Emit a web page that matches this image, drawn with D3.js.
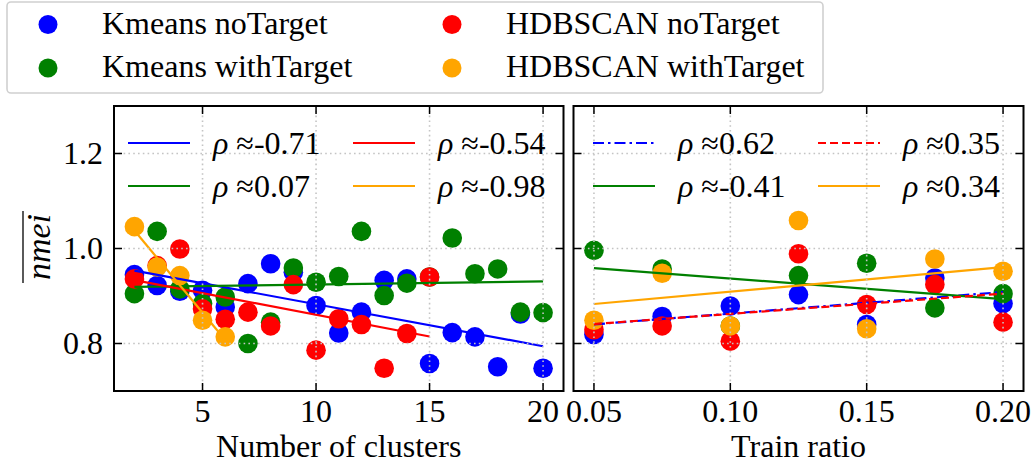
<!DOCTYPE html>
<html>
<head>
<meta charset="utf-8">
<script src="https://cdn.jsdelivr.net/npm/d3@7"></script>
<style>
  html, body { margin: 0; padding: 0; background: #fff; }
  svg { display: block; }
  svg text { font-family: "Liberation Serif", "Tinos", "Times New Roman", "DejaVu Serif", serif; fill: #000; }
</style>
</head>
<body>
<svg id="chart" width="1032" height="468"></svg>
<script>
// ---- data -------------------------------------------------------------
const seriesNames = ["Kmeans noTarget", "Kmeans withTarget", "HDBSCAN noTarget", "HDBSCAN withTarget"];
const seriesColors = ["#0000ff", "#008000", "#ff0000", "#ffa500"];

// number of clusters (left panel)
const kmeansClusters = [2, 3, 4, 5, 6, 7, 8, 9, 10, 11, 12, 13, 14, 15, 16, 17, 18, 19, 20];
const kmeansNoTargetByClusters = [0.945, 0.922, 0.910, 0.912, 0.877, 0.926, 0.968, 0.950, 0.880, 0.822,
                                  0.866, 0.933, 0.936, 0.758, 0.823, 0.814, 0.751, 0.862, 0.748];
const kmeansWithTargetByClusters = [0.905, 1.036, 0.915, 0.884, 0.898, 0.800, 0.845, 0.959, 0.929, 0.941,
                                    1.036, 0.901, 0.927, 0.940, 1.022, 0.947, 0.957, 0.866, 0.865];
const hdbscanClusters = [2, 3, 4, 5, 6, 7, 8, 9, 10, 11, 12, 13, 14, 15];
const hdbscanNoTargetByClusters = [0.936, 0.964, 0.999, 0.873, 0.851, 0.866, 0.837, 0.924, 0.786, 0.852,
                                   0.840, 0.748, 0.821, 0.940];
const hdbscanWithTargetClusters = [2, 3, 4, 5, 6];
const hdbscanWithTargetByClusters = [1.046, 0.961, 0.943, 0.849, 0.814];
const rhoClusters = ["-0.71", "0.07", "-0.54", "-0.98"];

// train ratio (right panel)
const trainRatios = [0.05, 0.075, 0.10, 0.125, 0.15, 0.175, 0.20];
const kmeansNoTargetByRatio = [0.819, 0.857, 0.879, 0.903, 0.840, 0.938, 0.884];
const kmeansWithTargetByRatio = [0.996, 0.957, 0.837, 0.943, 0.969, 0.875, 0.905];
const hdbscanNoTargetByRatio = [0.829, 0.837, 0.805, 0.989, 0.882, 0.924, 0.845];
const hdbscanWithTargetByRatio = [0.849, 0.948, 0.837, 1.059, 0.831, 0.978, 0.952];
const rhoRatio = ["0.62", "-0.41", "0.35", "0.34"];

const yTicks = [0.8, 1.0, 1.2];
const clusterTicks = [5, 10, 15, 20];
const ratioTicks = [0.05, 0.10, 0.15, 0.20];

// ---- layout -----------------------------------------------------------
const svg = d3.select("#chart");
const FONT = 32;
const plotTop = 106, plotBottom = 391;
const y = d3.scaleLinear().domain([0.7, 1.3]).range([plotBottom, plotTop]);

const panels = [
  {
    x: d3.scaleLinear().domain([1.1, 20.9]).range([114, 563.5]),
    ticks: clusterTicks, fmt: d3.format("d"), label: "Number of clusters",
    series: [
      { xs: kmeansClusters, ys: kmeansNoTargetByClusters, dash: null },
      { xs: kmeansClusters, ys: kmeansWithTargetByClusters, dash: null },
      { xs: hdbscanClusters, ys: hdbscanNoTargetByClusters, dash: null },
      { xs: hdbscanWithTargetClusters, ys: hdbscanWithTargetByClusters, dash: null }
    ],
    rho: rhoClusters, yLabels: true, legendPad: 14
  },
  {
    x: d3.scaleLinear().domain([0.0425, 0.2075]).range([573.5, 1023.5]),
    ticks: ratioTicks, fmt: d3.format(".2f"), label: "Train ratio",
    series: [
      { xs: trainRatios, ys: kmeansNoTargetByRatio, dash: "11,4,2.5,4" },
      { xs: trainRatios, ys: kmeansWithTargetByRatio, dash: null },
      { xs: trainRatios, ys: hdbscanNoTargetByRatio, dash: "8,4" },
      { xs: trainRatios, ys: hdbscanWithTargetByRatio, dash: null }
    ],
    rho: rhoRatio, yLabels: false, legendPad: 19.5
  }
];

// least-squares fit through a series
function linearFit(xs, ys) {
  const mx = d3.mean(xs), my = d3.mean(ys);
  let sxy = 0, sxx = 0;
  xs.forEach((xv, i) => { sxy += (xv - mx) * (ys[i] - my); sxx += (xv - mx) * (xv - mx); });
  const b = sxy / sxx, a = my - b * mx;
  return xv => a + b * xv;
}

// legend slots inside each panel: [column, row] per series
const innerSlot = [[0, 0], [0, 1], [1, 0], [1, 1]];

panels.forEach(p => {
  const [x0, x1] = p.x.range();
  const g = svg.append("g");

  // scatter points
  p.series.forEach((s, si) => {
    g.append("g").selectAll("circle")
      .data(s.xs.map((xv, i) => [xv, s.ys[i]]))
      .join("circle")
      .attr("cx", d => p.x(d[0]))
      .attr("cy", d => y(d[1]))
      .attr("r", 9.8)
      .attr("fill", seriesColors[si]);
  });

  // fitted trend lines
  p.series.forEach((s, si) => {
    const f = linearFit(s.xs, s.ys);
    const xa = d3.min(s.xs), xb = d3.max(s.xs);
    g.append("line")
      .attr("x1", p.x(xa)).attr("y1", y(f(xa)))
      .attr("x2", p.x(xb)).attr("y2", y(f(xb)))
      .attr("stroke", seriesColors[si])
      .attr("stroke-width", 2.2)
      .attr("stroke-dasharray", s.dash);
  });

  // dotted grid
  const grid = g.append("g").attr("stroke", "#c4c4c4").attr("stroke-width", 1.6)
    .attr("stroke-dasharray", "1.6,3.2");
  yTicks.forEach(t => grid.append("line").attr("x1", x0).attr("x2", x1).attr("y1", y(t)).attr("y2", y(t)));
  p.ticks.forEach(t => grid.append("line").attr("x1", p.x(t)).attr("x2", p.x(t)).attr("y1", plotTop).attr("y2", plotBottom));

  // inward ticks on all sides
  const tk = g.append("g").attr("stroke", "#000").attr("stroke-width", 1.5);
  const TL = 8;
  yTicks.forEach(t => {
    tk.append("line").attr("x1", x0).attr("x2", x0 + TL).attr("y1", y(t)).attr("y2", y(t));
    tk.append("line").attr("x1", x1).attr("x2", x1 - TL).attr("y1", y(t)).attr("y2", y(t));
  });
  p.ticks.forEach(t => {
    tk.append("line").attr("x1", p.x(t)).attr("x2", p.x(t)).attr("y1", plotBottom).attr("y2", plotBottom - TL);
    tk.append("line").attr("x1", p.x(t)).attr("x2", p.x(t)).attr("y1", plotTop).attr("y2", plotTop + TL);
  });

  // frame
  g.append("rect").attr("x", x0).attr("y", plotTop).attr("width", x1 - x0).attr("height", plotBottom - plotTop)
    .attr("fill", "none").attr("stroke", "#000").attr("stroke-width", 2);

  // tick labels
  g.append("g").selectAll("text").data(p.ticks).join("text")
    .attr("x", d => p.x(d)).attr("y", plotBottom + 31)
    .attr("text-anchor", "middle").attr("font-size", FONT)
    .text(d => p.fmt(d));
  if (p.yLabels) {
    g.append("g").selectAll("text").data(yTicks).join("text")
      .attr("x", x0 - 11).attr("y", d => y(d) + 10)
      .attr("text-anchor", "end").attr("font-size", FONT)
      .text(d => d3.format(".1f")(d));
  }

  // axis title
  g.append("text").attr("x", (x0 + x1) / 2).attr("y", 457)
    .attr("text-anchor", "middle").attr("font-size", FONT).text(p.label);

  // correlation legend
  const colX = [x0 + p.legendPad, x0 + p.legendPad + 225];
  const rowY = [143, 186];
  p.series.forEach((s, si) => {
    const [c, r] = innerSlot[si];
    const lx = colX[c], ly = rowY[r];
    g.append("line").attr("x1", lx).attr("x2", lx + 62).attr("y1", ly).attr("y2", ly)
      .attr("stroke", seriesColors[si]).attr("stroke-width", 2.2)
      .attr("stroke-dasharray", s.dash);
    const t = g.append("text").attr("x", lx + 85).attr("y", ly + 11).attr("font-size", FONT);
    t.append("tspan").attr("font-style", "italic").text("ρ");
    t.append("tspan").text(" ≈" + p.rho[si]);
  });
});

// y-axis title with overline
const yl = svg.append("g").attr("transform", "translate(50,247) rotate(-90)");
const ylt = yl.append("text").attr("text-anchor", "middle").attr("font-size", 34)
  .attr("font-style", "italic").text("nmei");
const bb = ylt.node().getBBox();
yl.append("line").attr("x1", bb.x - 3).attr("x2", bb.x + bb.width + 3).attr("y1", -27).attr("y2", -27)
  .attr("stroke", "#000").attr("stroke-width", 1.3);

// figure legend
const lg = svg.append("g");
lg.append("rect").attr("x", 7).attr("y", 2).attr("width", 816).attr("height", 91).attr("rx", 4)
  .attr("fill", "#fff").attr("stroke", "#d0d0d0").attr("stroke-width", 1.6);
const legSlot = [[48, 24.5], [48, 68], [452, 24.5], [452, 68]];
seriesNames.forEach((name, i) => {
  const [mx, my] = legSlot[i];
  lg.append("circle").attr("cx", mx).attr("cy", my).attr("r", 9.5).attr("fill", seriesColors[i]);
  lg.append("text").attr("x", mx + 54).attr("y", my + 9).attr("font-size", FONT).text(name);
});
</script>
</body>
</html>
